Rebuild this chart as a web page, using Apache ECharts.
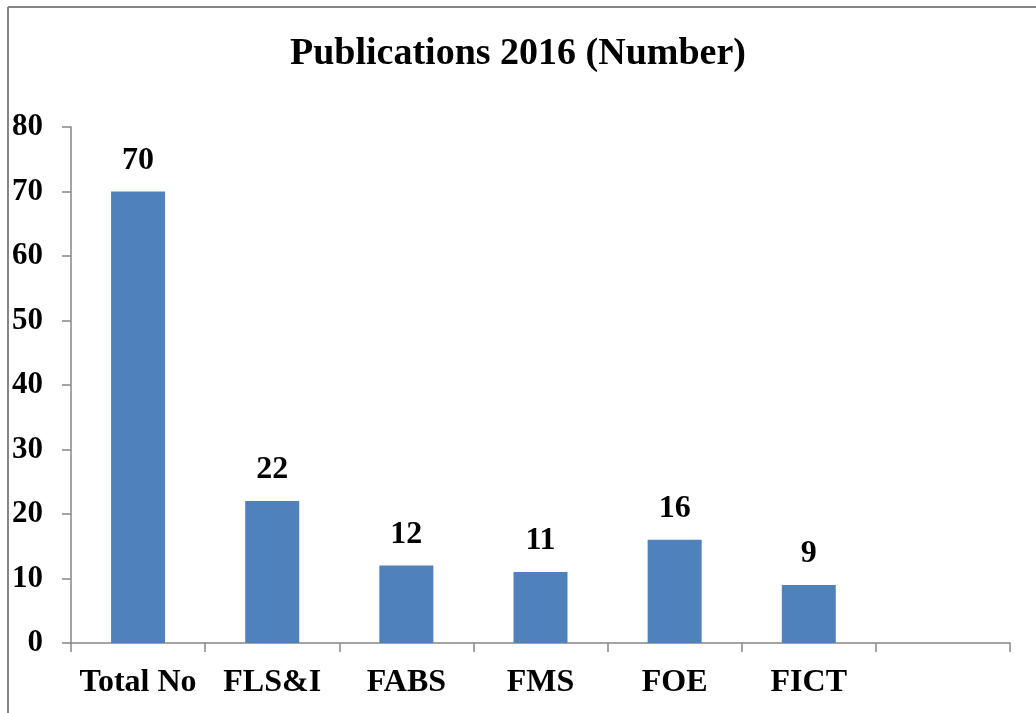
<!DOCTYPE html>
<html>
<head>
<meta charset="utf-8">
<script src="https://cdn.jsdelivr.net/npm/echarts@6/dist/echarts.min.js"></script>
<style>
  html, body { margin: 0; padding: 0; background: #fff; }
  #main { width: 1036px; height: 713px; }
</style>
</head>
<body>
<div id="main"></div>
<script>
// faculties, last slot is left empty like in the original
var categories = ['Total No', 'FLS&I', 'FABS', 'FMS', 'FOE', 'FICT', ''];
var publications = [70, 22, 12, 11, 16, 9, '-'];
var yTicks = [0, 10, 20, 30, 40, 50, 60, 70, 80];

var serif = "'Liberation Serif', 'Times New Roman', serif";
var gray = '#868686';

var myChart = echarts.init(document.getElementById('main'));

var option = {
  backgroundColor: '#fff',
  title: {
    text: 'Publications 2016 (Number)',
    left: 'center',
    top: 30,
    textStyle: { fontFamily: serif, fontSize: 38, fontWeight: 'bold', color: '#000' }
  },
  graphic: [
    { type: 'line', shape: { x1: 8, y1: 7, x2: 1036, y2: 7 }, style: { stroke: gray, lineWidth: 2 } },
    { type: 'line', shape: { x1: 8, y1: 7, x2: 8, y2: 713 }, style: { stroke: gray, lineWidth: 2 } }
  ],
  grid: { left: 71, right: 26, top: 127, bottom: 70 },
  xAxis: {
    type: 'category',
    data: categories,
    boundaryGap: true,
    axisLine: { show: true, lineStyle: { color: gray, width: 1.5 } },
    axisTick: { show: true, interval: 0, alignWithLabel: false, length: 9, lineStyle: { color: gray, width: 1.5 } },
    axisLabel: { interval: 0, margin: 24, color: '#000', fontFamily: serif, fontSize: 32, fontWeight: 'bold' }
  },
  yAxis: {
    type: 'value',
    min: yTicks[0],
    max: yTicks[yTicks.length - 1],
    interval: 10,
    axisLine: { show: true, lineStyle: { color: gray, width: 1.5 } },
    axisTick: { show: true, length: 9, lineStyle: { color: gray, width: 1.5 } },
    splitLine: { show: false },
    axisLabel: { margin: 28, color: '#000', fontFamily: serif, fontSize: 31, fontWeight: 'bold' }
  },
  series: [
    {
      type: 'bar',
      data: publications,
      barWidth: 54,
      itemStyle: { color: '#4F81BD' },
      label: {
        show: true,
        position: 'top',
        distance: 15,
        color: '#000',
        fontFamily: serif,
        fontSize: 32,
        fontWeight: 'bold'
      }
    }
  ]
};

myChart.setOption(option);
</script>
</body>
</html>
